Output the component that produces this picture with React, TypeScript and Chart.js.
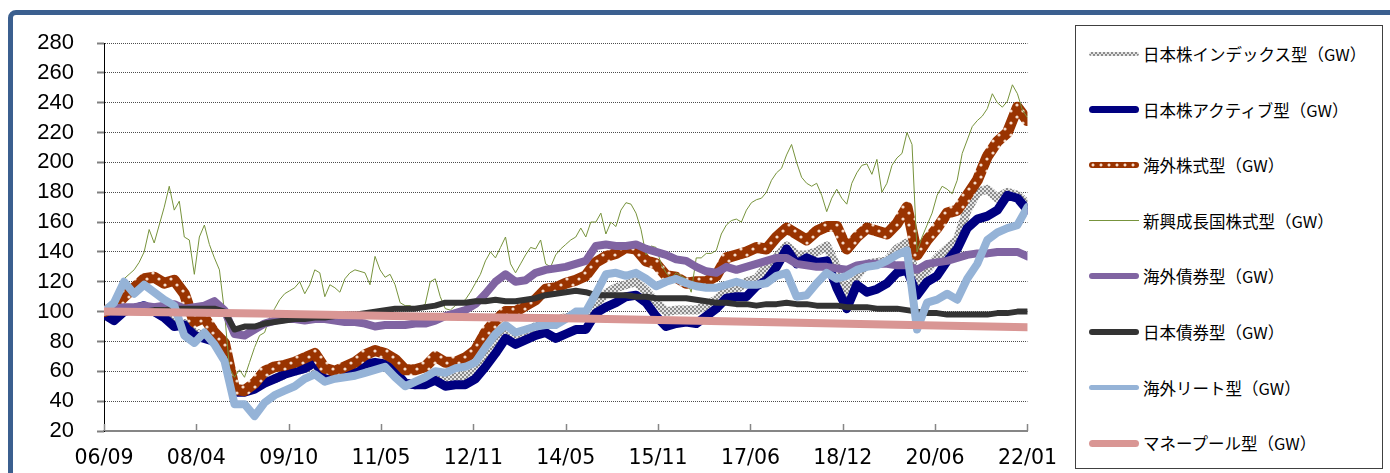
import React, { useEffect, useRef } from 'react';
import { Chart, registerables } from 'chart.js';

Chart.register(...registerables);

// ---- axis labels ----
const xTickLabels = ['06/09', '08/04', '09/10', '11/05', '12/11', '14/05', '15/11', '17/06', '18/12', '20/06', '22/01'];
// month index (0 = 2006/09) of each tick label
const xTickMonths = [0, 18.4, 36.8, 55.2, 73.6, 92, 110.4, 128.8, 147.2, 165.6, 184];

const legendLabels = [
  '日本株インデックス型（GW）',
  '日本株アクティブ型（GW）',
  '海外株式型（GW）',
  '新興成長国株式型（GW）',
  '海外債券型（GW）',
  '日本債券型（GW）',
  '海外リート型（GW）',
  'マネープール型（GW）',
];

// ---- series values (thick series sampled every 2 months from 2006/09) ----
const seriesStepMonths = 2;

const japanIndexValues = [
  100, 96, 101, 102, 103, 100, 97, 92, 92, 86, 84, 81, 72, 48, 48, 50,
  53, 55, 58, 60, 62, 64, 57, 57, 59, 61, 63, 64, 63, 58, 52, 51,
  52, 56, 55, 56, 57, 60, 70, 78, 86, 84, 87, 90, 92, 94, 96, 96,
  97, 105, 112, 116, 118, 120, 114, 106, 100, 101, 101, 101, 104, 108, 114, 115,
  120, 122, 130, 136, 144, 138, 138, 140, 144, 130, 112, 124, 132, 133, 134, 142,
  146, 120, 128, 136, 142, 148, 168, 180, 182, 176, 180, 178, 172,
];

const japanActiveValues = [
  98, 94, 100, 102, 104, 100, 96, 90, 91, 84, 82, 80, 70, 46, 46, 48,
  52, 55, 58, 60, 62, 66, 57, 57, 59, 61, 65, 66, 65, 60, 52, 51,
  51, 54, 50, 51, 51, 55, 63, 72, 82, 78, 81, 84, 86, 82, 85, 88,
  88, 99, 103, 106, 110, 111, 106, 97, 90, 92, 93, 92, 97, 102, 109, 110,
  110, 117, 121, 130, 142, 132, 136, 133, 134, 116, 102, 118, 113, 115, 119, 126,
  128, 111, 120, 124, 134, 142, 156, 162, 164, 168, 178, 176, 168,
];

const foreignEquityValues = [
  100, 103, 110, 116, 122, 123, 119, 121, 112, 93, 96, 86, 79, 48, 47, 52,
  60, 63, 64, 66, 69, 72, 62, 60, 63, 66, 71, 74, 72, 68, 61, 61,
  63, 70, 66, 66, 69, 74, 86, 94, 100, 100, 104, 108, 115, 116, 119, 121,
  124, 133, 137, 139, 143, 142, 134, 132, 124, 123, 119, 120, 120, 124, 136, 138,
  140, 143, 142, 150, 156, 152, 148, 154, 157, 157, 142, 150, 156, 154, 152, 159,
  170, 138, 148, 156, 166, 168, 178, 188, 204, 214, 220, 237, 228,
];

// monthly values
const emergingValues = [
  100, 104, 110, 116, 122, 125, 128, 133, 140, 155, 146, 158, 170, 184, 168, 174,
  150, 148, 125, 150, 158, 145, 136, 128, 100, 62, 56, 61, 56, 66, 76, 84,
  86, 96, 102, 108, 112, 114, 116, 120, 112, 118, 128, 126, 110, 118, 116, 113,
  122, 126, 128, 127, 126, 118, 137, 128, 123, 125, 118, 106, 104, 104, 102, 103,
  105, 120, 122, 110, 102, 101, 104, 106, 108, 113, 119, 125, 134, 140, 136, 143,
  150, 132, 126, 132, 138, 143, 142, 148, 132, 130, 138, 142, 145, 148, 150, 156,
  150, 160, 160, 166, 152, 160, 157, 168, 173, 172, 166, 155, 138, 144, 143, 132,
  126, 122, 126, 124, 122, 113, 136, 136, 139, 139, 141, 152, 158, 161, 162,
  160, 168, 173, 175, 176, 180, 188, 193, 196, 205, 212, 200, 190, 186, 184, 186,
  178, 167, 176, 182, 176, 172, 186, 193, 198, 199, 192, 202, 180, 186, 198, 203,
  206, 220, 212, 140, 150, 158, 166, 178, 184, 182, 179, 188, 206, 215, 224, 228,
  231, 236, 246, 240, 237, 241, 252, 246, 235, 230,
];

const foreignBondValues = [
  100, 102, 103, 103, 104, 103, 104, 105, 102, 103, 104, 107, 101, 85, 84, 88,
  92, 94, 95, 95, 94, 95, 95, 94, 93, 93, 92, 90, 91, 91, 91, 92,
  92, 94, 97, 99, 101, 105, 112, 120, 125, 120, 121, 126, 128, 129, 130, 132,
  134, 144, 145, 144, 144, 145, 142, 140, 138, 135, 134, 130, 127, 126, 130, 128,
  130, 132, 134, 136, 136, 132, 131, 130, 130, 129, 128, 131, 132, 132, 132, 131,
  131, 128, 132, 133, 134, 136, 138, 139, 139, 140, 140, 140, 137,
];

const japanBondValues = [
  100, 100, 100, 100, 100, 101, 101, 102, 102, 102, 102, 102, 100, 88, 90, 90,
  92, 93, 94, 95, 95, 96, 96, 97, 98, 98, 99, 100, 101, 102, 102, 102,
  103, 104, 106, 106, 106, 107, 107, 108, 107, 107, 108, 109, 111, 112, 113, 114,
  113, 111, 111, 111, 111, 110, 110, 109, 109, 109, 109, 108, 107, 106, 106, 105,
  105, 104, 105, 105, 106, 105, 105, 104, 104, 104, 103, 103, 103, 102, 102, 102,
  101, 100, 99, 99, 98, 98, 98, 98, 98, 99, 99, 100, 100,
];

const foreignReitValues = [
  100, 106, 120, 112, 118, 113, 108, 104, 84, 79, 86, 78, 67, 38, 38, 30,
  39, 44, 47, 50, 55, 58, 53, 55, 56, 57, 59, 61, 63, 56, 50, 53,
  56, 60, 59, 62, 63, 66, 76, 85, 91, 86, 88, 90, 91, 91, 95, 100,
  100, 112, 125, 126, 124, 126, 122, 117, 120, 122, 119, 117, 116, 116, 118, 120,
  118, 118, 119, 124, 126, 110, 111, 119, 126, 122, 124, 128, 130, 131, 134, 138,
  141, 88, 106, 108, 112, 108, 122, 132, 148, 153, 156, 158, 170,
];

const moneyPoolMonths = [0, 31, 63, 95, 126, 158, 184];
const moneyPoolValues = [100, 98.8, 96.8, 95.4, 93.4, 91.2, 89.5];

const innerTicks = {
  id: 'innerTicks',
  afterDraw(chart: any) {
    const xs = chart.scales.x;
    const ctx = chart.ctx;
    ctx.save();
    ctx.strokeStyle = '#868686';
    ctx.lineWidth = 1.5;
    xs.ticks.forEach((t: any) => {
      const px = Math.round(xs.getPixelForValue(t.value)) + 0.5;
      ctx.beginPath();
      ctx.moveTo(px, xs.top);
      ctx.lineTo(px, xs.top - 7);
      ctx.stroke();
    });
    ctx.restore();
  },
};

const legendSamples: React.CSSProperties[] = [
  { height: 4, backgroundImage: 'repeating-conic-gradient(#8c8c8c 0% 25%, #e4e4e4 0% 50%)', backgroundSize: '4px 4px' },
  { height: 7, background: '#000080' },
  { height: 6, backgroundColor: '#993300', backgroundImage: 'radial-gradient(circle, #f6dccb 1.2px, rgba(0,0,0,0) 1.8px)', backgroundSize: '8px 6px' },
  { height: 1, background: '#77933C', borderRadius: 0 },
  { height: 6, background: '#8064A2' },
  { height: 6, background: '#333333' },
  { height: 5, background: '#95B3D7' },
  { height: 7, background: '#D99694' },
];

export default function App() {
  const ref = useRef<HTMLCanvasElement>(null);

  useEffect(() => {
    const canvas = ref.current!;
    const ctx = canvas.getContext('2d')!;
    const makeTile = (w: number, h: number, paint: (g: CanvasRenderingContext2D) => void) => {
      const c = document.createElement('canvas');
      c.width = w;
      c.height = h;
      paint(c.getContext('2d')!);
      return ctx.createPattern(c, 'repeat')!;
    };
    const checker = makeTile(4, 4, (g) => {
      g.fillStyle = '#8c8c8c';
      g.fillRect(0, 0, 4, 4);
      g.fillStyle = '#e4e4e4';
      g.fillRect(0, 0, 2, 2);
      g.fillRect(2, 2, 2, 2);
    });
    const dotted = makeTile(12, 12, (g) => {
      g.fillStyle = '#993300';
      g.fillRect(0, 0, 12, 12);
      g.fillStyle = '#f6dccb';
      [[3, 3], [9, 9]].forEach(([x, y]) => {
        g.beginPath();
        g.arc(x, y, 1.6, 0, Math.PI * 2);
        g.fill();
      });
    });
    const stepped = (vals: number[]) => vals.map((v, i) => ({ x: i * seriesStepMonths, y: v }));
    const monthly = (vals: number[]) => vals.map((v, i) => ({ x: i, y: v }));
    const line = (label: string, data: any[], color: any, width: number, order: number) => ({
      label,
      data,
      borderColor: color,
      backgroundColor: color,
      borderWidth: width,
      order,
      pointRadius: 0,
      fill: false,
      tension: 0,
      borderJoinStyle: 'round',
      borderCapStyle: 'round',
    });

    const chart = new Chart(ctx, {
      type: 'line',
      data: {
        datasets: [
          line(legendLabels[0], stepped(japanIndexValues), checker, 9, 90),
          line(legendLabels[1], stepped(japanActiveValues), '#000080', 9, 80),
          line(legendLabels[2], stepped(foreignEquityValues), dotted, 11, 70),
          line(legendLabels[3], monthly(emergingValues), '#77933C', 1, 60),
          line(legendLabels[4], stepped(foreignBondValues), '#8064A2', 8, 50),
          line(legendLabels[5], stepped(japanBondValues), '#333333', 6, 40),
          line(legendLabels[6], stepped(foreignReitValues), '#95B3D7', 8, 30),
          line(legendLabels[7], moneyPoolMonths.map((m, i) => ({ x: m, y: moneyPoolValues[i] })), '#D99694', 8, 20),
        ] as any,
      },
      options: {
        animation: false,
        responsive: false,
        events: [],
        layout: { padding: { left: 0, top: 43, right: 38, bottom: 0 } },
        plugins: { legend: { display: false }, tooltip: { enabled: false } },
        scales: {
          x: {
            type: 'linear',
            min: 0,
            max: 184,
            afterBuildTicks: (s: any) => {
              s.ticks = xTickMonths.map((v) => ({ value: v }));
            },
            afterFit: (s: any) => {
              s.height = 42;
            },
            ticks: {
              autoSkip: false,
              maxRotation: 0,
              minRotation: 0,
              color: '#000',
              font: { family: 'DejaVu Sans', size: 20.5 },
              padding: 15,
              callback: (_v: any, i: number) => xTickLabels[i],
            },
            grid: { display: true, drawOnChartArea: false, drawTicks: false },
            border: { color: '#868686', width: 2 },
          },
          y: {
            min: 20,
            max: 280,
            afterFit: (s: any) => {
              s.width = 104;
            },
            ticks: {
              stepSize: 20,
              autoSkip: false,
              color: '#000',
              font: { family: '"Liberation Sans", Arial, sans-serif', size: 22 },
              padding: 23,
            },
            grid: { color: '#4d4d4d', lineWidth: 1, tickLength: 7, tickColor: '#808080', tickWidth: 2 },
            border: { color: '#000', width: 1, dash: [1, 1] },
          },
        },
      } as any,
      plugins: [innerTicks],
    });
    return () => chart.destroy();
  }, []);

  return (
    <div style={{ position: 'absolute', left: 0, top: 0, width: 1390, height: 473, overflow: 'hidden', background: '#fff' }}>
      <div
        style={{
          position: 'absolute',
          left: 8,
          top: 10,
          width: 1420,
          height: 520,
          border: '5px solid #3b5f8f',
          borderTopLeftRadius: 8,
          boxSizing: 'border-box',
        }}
      />
      <canvas ref={ref} width={1072} height={473} style={{ position: 'absolute', left: 0, top: 0, width: 1072, height: 473 }} />
      <div
        style={{
          position: 'absolute',
          left: 1075,
          top: 25,
          width: 308,
          height: 444,
          border: '1px solid #404040',
          boxSizing: 'border-box',
          background: '#fff',
        }}
      >
        {legendLabels.map((label, i) => {
          const cy = 28 + i * 55.6;
          const s = legendSamples[i];
          const h = (s.height as number) || 1;
          return (
            <React.Fragment key={label}>
              <div
                style={{
                  position: 'absolute',
                  left: 13,
                  top: cy - h / 2,
                  width: 50,
                  borderRadius: h / 2,
                  ...s,
                }}
              />
              <div
                style={{
                  position: 'absolute',
                  left: 67,
                  top: cy,
                  transform: 'translateY(-50%)',
                  fontFamily: '"Noto Sans CJK JP", sans-serif',
                  fontSize: 16.5,
                  lineHeight: 1,
                  color: '#000',
                  whiteSpace: 'nowrap',
                }}
              >
                {label}
              </div>
            </React.Fragment>
          );
        })}
      </div>
    </div>
  );
}
